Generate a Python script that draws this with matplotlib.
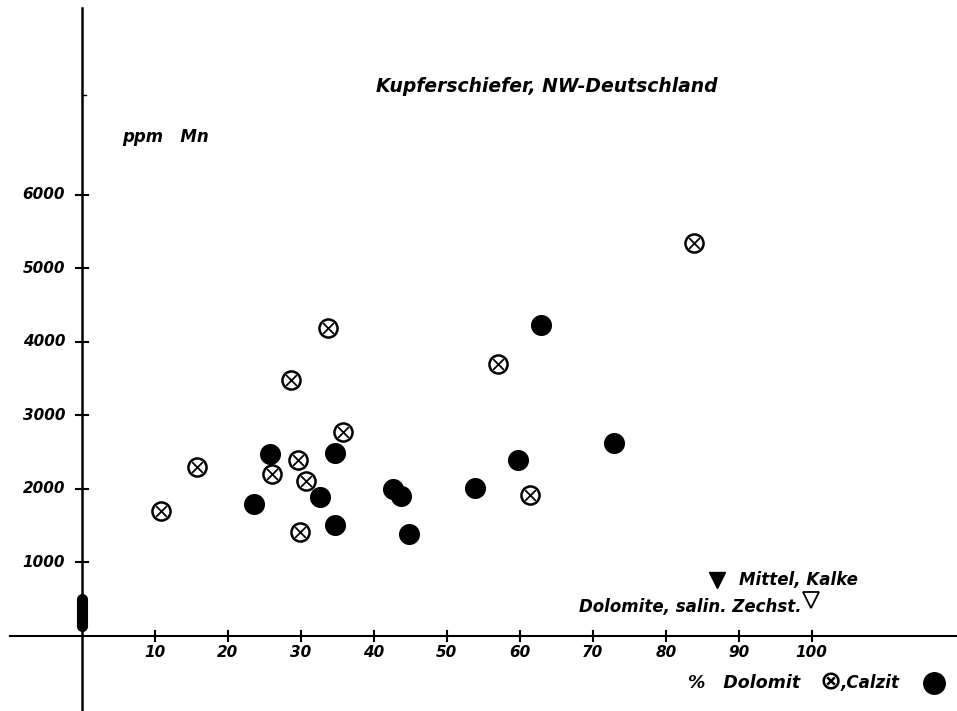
import matplotlib.pyplot as plt

# % Dolomit vs ppm Mn, Kupferschiefer NW-Deutschland
dolomit_x = [10.8, 15.8, 26.0, 28.6, 29.6, 30.7, 29.9, 33.7, 35.8, 57.0, 61.4, 83.8]
dolomit_y = [1700, 2300, 2200, 3480, 2390, 2110, 1415, 4190, 2775, 3700, 1920, 5350]

calzit_x = [23.6, 25.8, 32.6, 34.7, 34.7, 42.6, 43.7, 44.8, 53.8, 59.7, 62.9, 72.9]
calzit_y = [1800, 2480, 1890, 2490, 1510, 2000, 1900, 1390, 2010, 2390, 4230, 2630]

# Werte bei 0 % Dolomit (senkrechter Balken)
zero_range = [130, 510]

# Mittelwerte
mittel_kalke = (87.0, 760)
mittel_dolomite = (99.9, 490)

xticks = [10, 20, 30, 40, 50, 60, 70, 80, 90, 100]
yticks = [1000, 2000, 3000, 4000, 5000, 6000]

fig = plt.figure(figsize=(9.57, 7.11), dpi=100)
ax = fig.add_axes([0, 0, 1, 1])
ax.set_xlim(-11.23, 119.9)
ax.set_ylim(-1020, 8650)
ax.axis('off')

font = dict(style='italic', fontweight='bold', family='DejaVu Sans', color='black')

# Achsen
ax.plot([-9.9, 119.9], [0, 0], color='black', lw=1.5)
ax.plot([0, 0], [-1020, 8540], color='black', lw=1.8)

for t in xticks:
    ax.plot([t, t], [-70, 70], color='black', lw=1.5)
    ax.text(t, -230, str(t), ha='center', va='center', fontsize=11, **font)
for t in yticks:
    ax.plot([-0.8, 0.8], [t, t], color='black', lw=1.5)
    ax.text(-2.3, t, str(t), ha='right', va='center', fontsize=11, **font)
ax.plot([0, 0.5], [7360, 7360], color='black', lw=1)

ax.plot([0, 0], zero_range, color='black', lw=8, solid_capstyle='round')

# Punkte
ax.scatter(dolomit_x, dolomit_y, s=170, facecolor='white', edgecolor='black', linewidth=1.8, zorder=3)
ax.scatter(dolomit_x, dolomit_y, s=60, marker='x', color='black', linewidth=1.3, zorder=4)
ax.scatter(calzit_x, calzit_y, s=200, color='black', zorder=3)

ax.plot(*mittel_kalke, marker='v', color='black', markersize=12)
ax.plot(*mittel_dolomite, marker='v', markerfacecolor='white', markeredgecolor='black',
        markersize=12, markeredgewidth=1.3)
ax.annotate('Mittel, Kalke', mittel_kalke, xytext=(16, 0), textcoords='offset points',
            ha='left', va='center', fontsize=12, **font)
ax.annotate('Dolomite, salin. Zechst.', mittel_dolomite, xytext=(-7, -5), textcoords='offset points',
            ha='right', va='center', fontsize=12, **font)

# Beschriftungen
ax.text(63.7, 7470, 'Kupferschiefer, NW-Deutschland', ha='center', va='center', fontsize=13.5, **font)
ax.text(5.5, 6790, 'ppm   Mn', ha='left', va='center', fontsize=12, **font)
ax.text(98.4, -640, '%   Dolomit', ha='right', va='center', fontsize=12.5, **font)
ax.text(102.6, -625, '⊗', ha='center', va='center', fontsize=19, **font)
ax.text(104.0, -640, ',Calzit', ha='left', va='center', fontsize=12, **font)
ax.scatter([116.8], [-640], s=240, color='black')

plt.savefig('out.png', dpi=100)
